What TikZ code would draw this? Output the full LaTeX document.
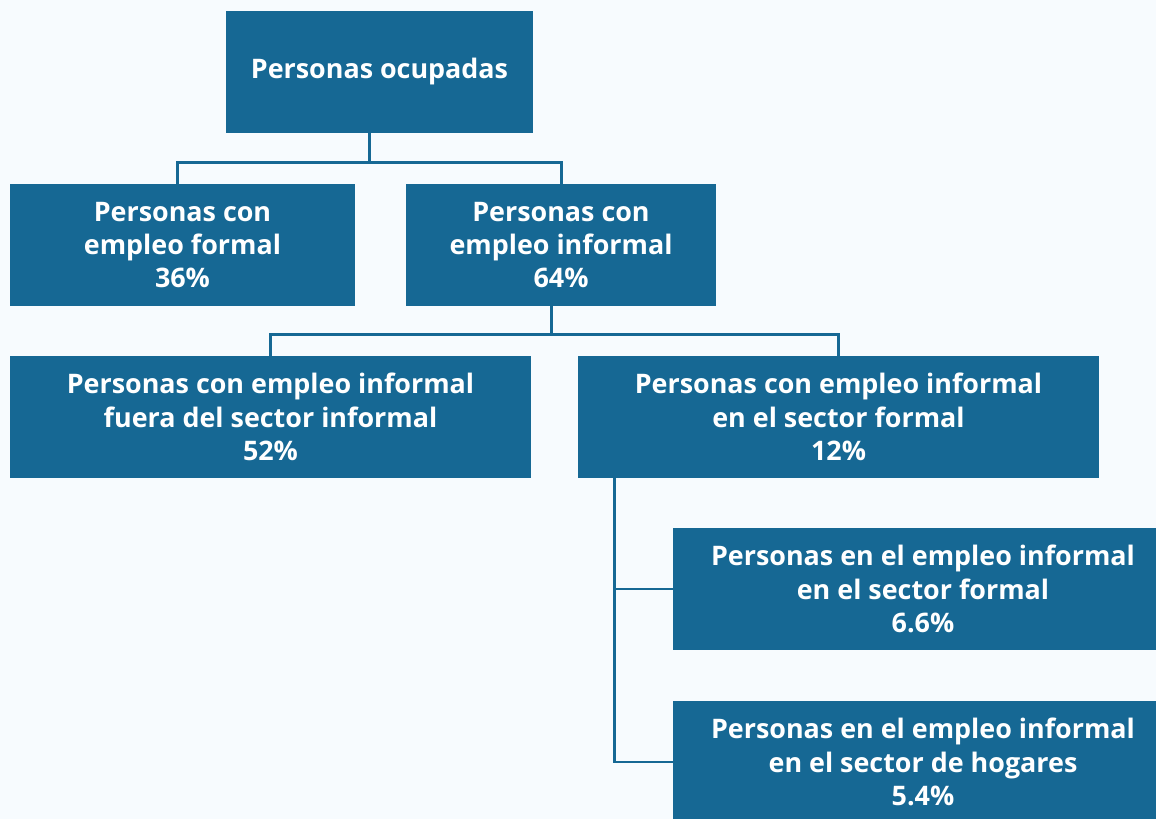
\documentclass[tikz,border=0pt]{standalone}
\usepackage{fontspec}
\setmainfont{Open Sans}
\usepackage{xcolor}
\usepackage{tikz}
\definecolor{boxblue}{HTML}{166894}
\definecolor{paper}{HTML}{F7FBFE}

\begin{document}
\begin{tikzpicture}[every node/.style={fill=boxblue,text=white,align=center,font=\bfseries\fontsize{15.3}{18.9}\selectfont,inner sep=0pt,minimum height=2.44cm},
 link/.style={draw=boxblue,line width=1.7pt}]
\useasboundingbox[fill=paper] (0,0) rectangle (23.12,-16.38);
\node[minimum width=6.14cm] (ocup) at (7.59,-1.44) {Personas ocupadas};
\node[minimum width=6.9cm] (formal) at (3.65,-4.9) {Personas con\\empleo formal\\36\%};
\node[minimum width=6.2cm] (informal) at (11.22,-4.9) {Personas con\\empleo informal\\64\%};
\node[minimum width=10.42cm] (fuera) at (5.41,-8.34) {Personas con empleo informal\\fuera del sector informal\\52\%};
\node[minimum width=10.42cm] (sformal) at (16.77,-8.34) {Personas con empleo informal\\en el sector formal\\12\%};
\node[minimum width=10cm] (enformal) at (18.46,-11.78) {Personas en el empleo informal\\en el sector formal\\6.6\%};
\node[minimum width=10cm] (hogares) at (18.46,-15.24) {Personas en el empleo informal\\en el sector de hogares\\5.4\%};
\path[link] ([xshift=-0.2cm]ocup.south) -- ++(0,-0.58) -| ([xshift=-0.1cm]formal.north);
\path[link] ([xshift=-0.2cm]ocup.south) -- ++(0,-0.58) -| (informal.north);
\path[link] ([xshift=-0.2cm]informal.south) -- ++(0,-0.56) -| (fuera.north);
\path[link] ([xshift=-0.2cm]informal.south) -- ++(0,-0.56) -| (sformal.north);
\path[link] ([xshift=0.74cm]sformal.south west) |- (enformal.west);
\path[link] ([xshift=0.74cm]sformal.south west) |- (hogares.west);
\end{tikzpicture}
\end{document}
